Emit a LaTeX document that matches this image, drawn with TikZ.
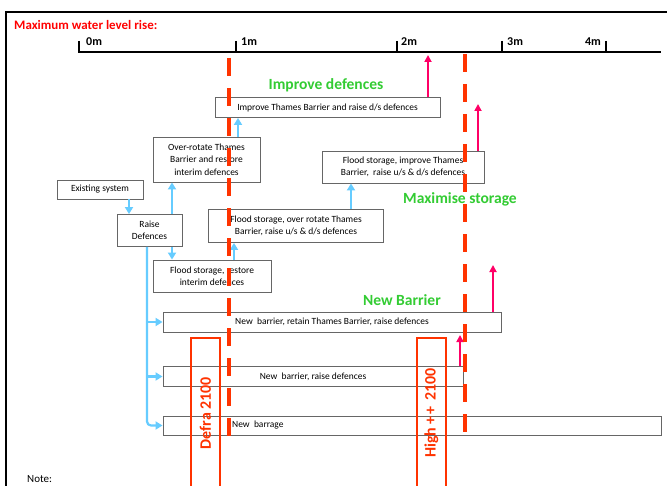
\documentclass[tikz,border=0pt]{standalone}
\usepackage{fontspec}
\setmainfont{Carlito}
\usetikzlibrary{arrows.meta}
\definecolor{redl}{HTML}{FF3300}
\definecolor{redt}{HTML}{FF0000}
\definecolor{greenl}{HTML}{33CC33}
\definecolor{skyb}{HTML}{66CCFF}
\definecolor{pinkc}{HTML}{FF0066}
\definecolor{boxgray}{HTML}{666666}
\begin{document}
\begin{tikzpicture}[x=1bp,y=-1bp,
  box/.style={draw=boxgray, fill=white, line width=0.9bp, inner sep=0pt,
    font=\fontsize{9.5}{12.5}\selectfont, align=center},
  bluearr/.style={draw=skyb, line width=2.2bp, -{Triangle[width=8bp,length=7bp]}},
  pinkarr/.style={draw=pinkc, line width=1.8bp, -{Triangle[width=7bp,length=7bp]}},
  reddash/.style={draw=redl, line width=4bp, dash pattern=on 18bp off 12bp},
  redbox/.style={draw=redl, line width=2bp, rotate=90, minimum width=150bp,
    minimum height=29bp, inner sep=0pt, text=redl, font=\fontsize{16}{18}\selectfont\bfseries},
  greenlab/.style={text=greenl, font=\fontsize{15.6}{17}\selectfont\bfseries, inner sep=0pt},
  axislab/.style={font=\fontsize{12}{13}\selectfont\bfseries, inner sep=0pt}]
\useasboundingbox (0,0) rectangle (667,486);
\clip (0,0) rectangle (667,486);
\fill[white] (0,0) rectangle (667,486);
% frame
\draw[line width=1.4bp] (6,500) -- (6,12) -- (680,12);
% heading
\node[anchor=west, text=redt, font=\fontsize{13}{15}\selectfont\bfseries, inner sep=0pt] (head) at (14,25) {Maximum water level rise:};
% axis
\draw[line width=1.6bp] (79,41) -- (79,52) -- (661,52);
\foreach \x in {236,397,502,606} \draw[line width=1.6bp] (\x,41) -- (\x,52);
\node[axislab, anchor=west] (l0) at (86,42) {0m};
\node[axislab, anchor=west] (l1) at (241,42) {1m};
\node[axislab, anchor=west] (l2) at (401,42) {2m};
\node[axislab, anchor=west] (l3) at (507,42) {3m};
\node[axislab, anchor=east] (l4) at (601,42) {4m};
% boxes
\node[box, minimum width=225bp, minimum height=20bp] (b1) at (327.5,107.5) {Improve Thames Barrier and raise d/s defences};
\node[box, minimum width=107bp, minimum height=45bp] (b2) at (206.5,159.5) {Over-rotate Thames\\Barrier and restore\\interim defences};
\node[box, minimum width=86bp, minimum height=19bp] (ex) at (100,189.5) {Existing system};
\node[box, minimum width=65bp, minimum height=32bp] (rs) at (149.5,230.5) {Raise\\Defences};
\node[box, minimum width=175bp, minimum height=33bp] (fo) at (296,226) {Flood storage, over rotate Thames\\Barrier, raise u/s \& d/s defences};
\node[box, minimum width=162bp, minimum height=32bp] (fi) at (403,167) {Flood storage, improve Thames\\Barrier,\ \ raise u/s \& d/s defences};
\node[box, minimum width=118bp, minimum height=32bp] (fr) at (212,276) {Flood storage, restore\\interim defences};
\node[box, minimum width=338bp, minimum height=20bp] (b8) at (332,322) {New\ \ barrier, retain Thames Barrier, raise defences};
\node[box, minimum width=300bp, minimum height=20bp] (b9) at (313,376.5) {New\ \ barrier, raise defences};
\node[box, minimum width=498bp, minimum height=19bp] (b10) at (412,425.5) {};
\node[anchor=west, inner sep=0pt, font=\fontsize{9.5}{12.5}\selectfont] (t10) at (232,425) {New\ \ barrage};
% green labels
\node[greenlab] (g1) at (326,85) {Improve defences};
\node[greenlab] (g2) at (460,199) {Maximise storage};
\node[greenlab] (g3) at (402,300) {New Barrier};
% blue arrows
\coordinate (xa) at (129,0);
\coordinate (xb) at (172,0);
\coordinate (xc) at (234,0);
\coordinate (xd) at (351,0);
\coordinate (xe) at (238,0);
\coordinate (xt) at (147,0);
\draw[bluearr] (ex.south -| xa) -- (rs.north -| xa);
\draw[bluearr] (rs.north -| xb) -- (b2.south -| xb);
\draw[bluearr] (rs.south -| xb) -- (fr.north -| xb);
\draw[bluearr] (fr.north -| xc) -- (fo.south -| xc);
\draw[bluearr] (fo.north -| xd) -- (fi.south -| xd);
\draw[bluearr] (b2.north -| xe) -- (b1.south -| xe);
\draw[bluearr, rounded corners=4bp] (rs.south -| xt) |- (b10.west);
\draw[bluearr] (b8.west -| xt) -- (b8.west);
\draw[bluearr] (b9.west -| xt) -- (b9.west);
% pink arrows
\coordinate (p1) at (428,55);
\coordinate (p2) at (478,104);
\coordinate (p3) at (493,265);
\coordinate (p4) at (460,335);
\draw[pinkarr] (b1.north -| p1) -- (p1);
\draw[pinkarr] (fi.north -| p2) -- (p2);
\draw[pinkarr] (b8.north -| p3) -- (p3);
\draw[pinkarr] (b9.north -| p4) -- (p4);
% red scenario boxes
\node[redbox] (defra) at (205.5,413) {Defra 2100};
\node[redbox] (high) at (431.5,413) {High +\hspace{2bp}+\hspace{2bp} 2100};
% red dashed lines
\coordinate (r1t) at (229,58);
\coordinate (r1b) at (229,447);
\coordinate (r2t) at (465,54);
\coordinate (r2b) at (465,443);
\draw[reddash] (r1t) -- (r1b);
\draw[reddash] (r2t) -- (r2b);
% note
\node[anchor=west, inner sep=0pt, font=\fontsize{11}{13}\selectfont] (note) at (27,479) {Note:};
\end{tikzpicture}
\end{document}
